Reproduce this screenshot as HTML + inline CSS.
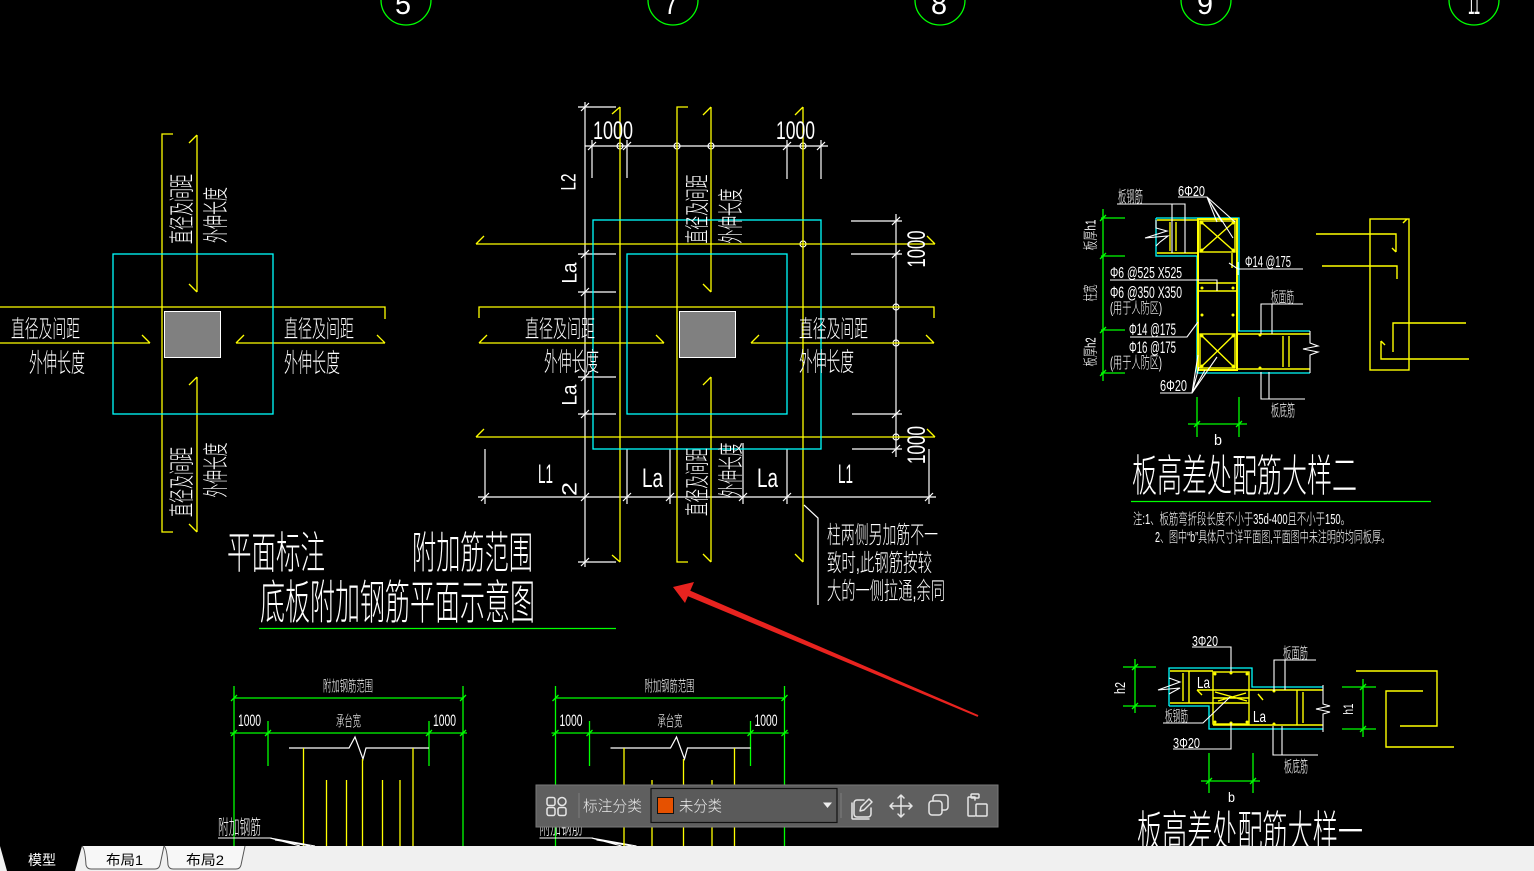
<!DOCTYPE html>
<html><head><meta charset="utf-8">
<style>
html,body{margin:0;padding:0;background:#000;}
svg{display:block;}
text{font-family:"Liberation Sans","Noto Sans CJK SC",sans-serif;fill:#fff;font-weight:300;}
</style></head><body>
<svg width="1534" height="871" viewBox="0 0 1534 871" xmlns="http://www.w3.org/2000/svg">
<rect width="1534" height="871" fill="#000"/>

<!-- top axis circles -->
<g fill="none" stroke="#0f0" stroke-width="1.3">
<circle cx="406" cy="0" r="25"/><circle cx="673" cy="0" r="25"/><circle cx="940" cy="0" r="25"/><circle cx="1206" cy="0" r="25"/><circle cx="1474" cy="0" r="25"/>
</g>
<text x="403" y="14" font-size="30" text-anchor="middle" textLength="16" lengthAdjust="spacingAndGlyphs">5</text>
<text x="671" y="14" font-size="30" text-anchor="middle" textLength="14" lengthAdjust="spacingAndGlyphs">7</text>
<text x="939" y="14" font-size="30" text-anchor="middle" textLength="16" lengthAdjust="spacingAndGlyphs">8</text>
<text x="1205" y="14" font-size="30" text-anchor="middle" textLength="16" lengthAdjust="spacingAndGlyphs">9</text>
<text x="1474" y="14" font-size="30" text-anchor="middle" textLength="12" lengthAdjust="spacingAndGlyphs">11</text>

<!-- LEFT DIAGRAM -->
<g fill="none" stroke="#ff0" stroke-width="1.3">
<polyline points="173,134 162,134 162,532 173,532"/>
<path d="M197,135V292M189,143L197,135M189,284L197,292M197,377V532M189,385L197,377M189,524L197,532"/>
<path d="M0,307H385V319M0,343H150M142,335L150,343M236,343H385M236,343L244,335M377,335L385,343"/>
</g>
<rect x="113" y="254" width="160" height="160" fill="none" stroke="#0ff" stroke-width="1.3"/>
<rect x="164.5" y="311.5" width="56" height="46" fill="#808080" stroke="#fff" stroke-width="1"/>
<text x="11" y="337" font-size="24" textLength="69" lengthAdjust="spacingAndGlyphs">直径及间距</text>
<text x="29" y="372" font-size="26" textLength="56" lengthAdjust="spacingAndGlyphs">外伸长度</text>
<text x="284" y="337" font-size="24" textLength="70" lengthAdjust="spacingAndGlyphs">直径及间距</text>
<text x="284" y="372" font-size="26" textLength="56" lengthAdjust="spacingAndGlyphs">外伸长度</text>
<text x="181" y="219" transform="rotate(-90 181 209)" text-anchor="middle" font-size="26" textLength="70" lengthAdjust="spacingAndGlyphs">直径及间距</text>
<text x="215" y="225" transform="rotate(-90 215 215)" text-anchor="middle" font-size="26" textLength="56" lengthAdjust="spacingAndGlyphs">外伸长度</text>
<text x="181" y="492" transform="rotate(-90 181 482)" text-anchor="middle" font-size="26" textLength="70" lengthAdjust="spacingAndGlyphs">直径及间距</text>
<text x="215" y="480" transform="rotate(-90 215 470)" text-anchor="middle" font-size="26" textLength="55" lengthAdjust="spacingAndGlyphs">外伸长度</text>

<!-- MIDDLE DIAGRAM -->
<g fill="none" stroke="#fff" stroke-width="1.2">
<path d="M585,102V567"/>
<path d="M578,107H616M578,254H616M578,292H616M578,377H616M578,414H616M578,562H616"/>
<path d="M585,146H828M592,140V178M627,140V178M787,140V179M821,140V179"/>
<path d="M896,214V457M851,221H902M851,254H902M852,414H902M852,449H902"/>
<path d="M478,497H936M485,449V504M627,449V504M670,449V504M743,443V504M787,449V504M929,449V504"/>
<path d="M804,505L818,518V605"/>
<path d="M581,111l8,-8M581,258l8,-8M581,296l8,-8M581,381l8,-8M581,418l8,-8M581,566l8,-8M581,501l8,-8M588,150l8,-8M623,150l8,-8M783,150l8,-8M817,150l8,-8M892,225l8,-8M892,258l8,-8M892,418l8,-8M892,453l8,-8M481,501l8,-8M623,501l8,-8M666,501l8,-8M739,501l8,-8M783,501l8,-8M925,501l8,-8"/>
<circle cx="620" cy="146" r="3"/><circle cx="677" cy="146" r="3"/><circle cx="711" cy="146" r="3"/><circle cx="803" cy="146" r="3"/>
<circle cx="803" cy="244" r="3"/><circle cx="896" cy="307" r="3"/><circle cx="896" cy="343" r="3"/><circle cx="896" cy="437" r="3"/>
</g>
<g fill="none" stroke="#ff0" stroke-width="1.3">
<path d="M620,107V562M612,114L620,107M612,555L620,562"/>
<polyline points="688,107 677,107 677,562 688,562"/>
<path d="M711,107V292M703,115L711,107M703,284L711,292M711,377V562M703,385L711,377M703,554L711,562"/>
<path d="M803,107V562M795,115L803,107M795,554L803,562"/>
<path d="M476,244H935M476,244L484,236M927,236L935,244M476,437H935M476,437L484,429M927,429L935,437"/>
<path d="M479,318V307H934V318M479,343H664M479,343L487,335M656,335L664,343M751,343H934M751,343L759,335M926,335L934,343"/>
</g>
<rect x="593" y="220" width="228" height="229" fill="none" stroke="#0ff" stroke-width="1.3"/>
<rect x="627" y="254" width="160" height="160" fill="none" stroke="#0ff" stroke-width="1.3"/>
<rect x="679.5" y="311.5" width="56" height="46" fill="#808080" stroke="#fff" stroke-width="1"/>

<text x="593" y="139" font-size="25" textLength="40" lengthAdjust="spacingAndGlyphs">1000</text>
<text x="776" y="139" font-size="25" textLength="39" lengthAdjust="spacingAndGlyphs">1000</text>
<text x="568" y="189.5" transform="rotate(-90 568 182)" text-anchor="middle" font-size="21" textLength="17" lengthAdjust="spacingAndGlyphs">L2</text>
<text x="569" y="280.5" transform="rotate(-90 569 273)" text-anchor="middle" font-size="21" textLength="21" lengthAdjust="spacingAndGlyphs">La</text>
<text x="569" y="402.5" transform="rotate(-90 569 395)" text-anchor="middle" font-size="21" textLength="21" lengthAdjust="spacingAndGlyphs">La</text>
<text x="569" y="496.5" transform="rotate(-90 569 489)" text-anchor="middle" font-size="21" textLength="14" lengthAdjust="spacingAndGlyphs">2</text>
<text x="916" y="258" transform="rotate(-90 916 249)" text-anchor="middle" font-size="25" textLength="37" lengthAdjust="spacingAndGlyphs">1000</text>
<text x="916" y="454" transform="rotate(-90 916 445)" text-anchor="middle" font-size="25" textLength="38" lengthAdjust="spacingAndGlyphs">1000</text>
<text x="538" y="483" font-size="27" textLength="15" lengthAdjust="spacingAndGlyphs">L1</text>
<text x="642" y="487" font-size="27" textLength="21" lengthAdjust="spacingAndGlyphs">La</text>
<text x="757" y="487" font-size="27" textLength="21" lengthAdjust="spacingAndGlyphs">La</text>
<text x="838" y="483" font-size="27" textLength="15" lengthAdjust="spacingAndGlyphs">L1</text>

<text x="525" y="337" font-size="24" textLength="70" lengthAdjust="spacingAndGlyphs">直径及间距</text>
<text x="544" y="371" font-size="26" textLength="55" lengthAdjust="spacingAndGlyphs">外伸长度</text>
<text x="799" y="337" font-size="24" textLength="69" lengthAdjust="spacingAndGlyphs">直径及间距</text>
<text x="799" y="371" font-size="26" textLength="55" lengthAdjust="spacingAndGlyphs">外伸长度</text>
<text x="696" y="219" transform="rotate(-90 696 209)" text-anchor="middle" font-size="25" textLength="69" lengthAdjust="spacingAndGlyphs">直径及间距</text>
<text x="730" y="226" transform="rotate(-90 730 216)" text-anchor="middle" font-size="26" textLength="55" lengthAdjust="spacingAndGlyphs">外伸长度</text>
<text x="696" y="492" transform="rotate(-90 696 482)" text-anchor="middle" font-size="25" textLength="68" lengthAdjust="spacingAndGlyphs">直径及间距</text>
<text x="730" y="480" transform="rotate(-90 730 470)" text-anchor="middle" font-size="26" textLength="55" lengthAdjust="spacingAndGlyphs">外伸长度</text>

<text x="827" y="543" font-size="24" textLength="111" lengthAdjust="spacingAndGlyphs">柱两侧另加筋不一</text>
<text x="827" y="571" font-size="24" textLength="105" lengthAdjust="spacingAndGlyphs">致时,此钢筋按较</text>
<text x="827" y="599" font-size="24" textLength="118" lengthAdjust="spacingAndGlyphs">大的一侧拉通,余同</text>

<!-- titles -->
<text x="227" y="568" font-size="44" textLength="98" lengthAdjust="spacingAndGlyphs">平面标注</text>
<text x="412" y="568" font-size="44" textLength="121" lengthAdjust="spacingAndGlyphs">附加筋范围</text>
<text x="260" y="619" font-size="47" textLength="275" lengthAdjust="spacingAndGlyphs">底板附加钢筋平面示意图</text>
<line x1="259" y1="628.5" x2="616" y2="628.5" stroke="#0f0" stroke-width="1.3"/>

<!-- red arrow -->
<polygon points="689.2,590.2 978.4,715.1 977.6,716.9 686.8,595.8" fill="#e8231f"/>
<polygon points="673,587 694,582 685,603" fill="#e8231f"/>

<!-- TOP-RIGHT DETAIL -->
<g fill="none" stroke="#0ff" stroke-width="1.3">
<polyline points="1156,218 1239,218 1239,331 1310,331"/>
<polyline points="1156,218 1156,256 1197,256 1197,373 1310,373"/>
</g>
<g fill="none" stroke="#ff0" stroke-width="1.4">
<rect x="1198" y="219" width="39" height="151" stroke-width="2"/>
<rect x="1200" y="221" width="35" height="31"/>
<path d="M1200,221L1235,252M1235,221L1200,252"/>
<rect x="1200" y="334" width="35" height="34"/>
<path d="M1200,334L1235,368M1235,334L1200,368"/>
<path d="M1157,220H1198M1157,253H1198M1170,222V251M1176,222V251"/>
<path d="M1237,334H1310M1237,369H1310M1283,336V367M1289,336V367"/>
<path d="M1199,283H1236M1199,291H1236M1217,283V291M1232,253V268"/>
<rect x="1370" y="219" width="39" height="151"/>
<path d="M1316,234H1396V252M1392,248L1396,252"/>
<path d="M1322,266H1397V279"/>
<path d="M1393,352V323H1466"/>
<path d="M1381,341V359H1469M1381,341L1385,345"/>
<path d="M1403,223L1407,219"/>
</g>
<g fill="#ff0">
<circle cx="1202" cy="223" r="1.5"/><circle cx="1233" cy="223" r="1.5"/><circle cx="1233" cy="250" r="1.5"/><circle cx="1202" cy="250" r="1.5"/>
<circle cx="1202" cy="288" r="1.5"/><circle cx="1233" cy="288" r="1.5"/><circle cx="1202" cy="315" r="1.5"/><circle cx="1233" cy="315" r="1.5"/>
<circle cx="1202" cy="336" r="1.5"/><circle cx="1233" cy="336" r="1.5"/><circle cx="1202" cy="366" r="1.5"/><circle cx="1233" cy="366" r="1.5"/>
<circle cx="1260" cy="335" r="1.5"/><circle cx="1260" cy="368" r="1.5"/>
</g>
<g fill="none" stroke="#fff" stroke-width="1.1">
<path d="M1117,204H1185V253M1172,204V253"/>
<path d="M1178,197H1207L1217,222M1207,197L1222,222M1207,197L1235,222M1207,197L1233,238"/>
<path d="M1238,269H1303M1238,262V275M1229,263L1238,269"/>
<path d="M1110,280H1217V291"/>
<path d="M1130,337H1187L1198,322"/>
<path d="M1160,393H1192L1199,367M1192,393L1198,355M1192,393L1217,357M1192,393L1205,370"/>
<path d="M1261,334V304H1303M1272,304V334"/>
<path d="M1261,372V399H1305M1269,372V399"/>
<polyline points="1156,220 1156,228 1167,231 1145,238 1168,236 1160,242 1156,246"/>
<polyline points="1310,331 1310,343 1318,346 1303,349 1318,352 1310,355 1310,373"/>
</g>
<g fill="none" stroke="#0f0" stroke-width="1.3">
<path d="M1103,209V381M1101,218H1125M1101,256H1125M1101,330H1125M1101,373H1125"/>
<path d="M1188,424H1247M1197,397V437M1239,397V437"/>
<path d="M1100,221l6,-6M1100,259l6,-6M1100,333l6,-6M1100,376l6,-6M1194,427l6,-6M1236,427l6,-6"/>
</g>
<text x="1090" y="240.5" transform="rotate(-90 1090 235)" text-anchor="middle" font-size="15" textLength="31" lengthAdjust="spacingAndGlyphs">板厚h1</text>
<text x="1090" y="298.5" transform="rotate(-90 1090 293)" text-anchor="middle" font-size="15" textLength="17" lengthAdjust="spacingAndGlyphs">柱宽</text>
<text x="1090" y="357.5" transform="rotate(-90 1090 352)" text-anchor="middle" font-size="15" textLength="29" lengthAdjust="spacingAndGlyphs">板厚h2</text>
<text x="1118" y="202" font-size="16" textLength="25" lengthAdjust="spacingAndGlyphs">板钢筋</text>
<text x="1178" y="196" font-size="15" textLength="27" lengthAdjust="spacingAndGlyphs">6Φ20</text>
<text x="1245" y="267" font-size="16" textLength="46" lengthAdjust="spacingAndGlyphs">Φ14 @175</text>
<text x="1110" y="278" font-size="16" textLength="72" lengthAdjust="spacingAndGlyphs">Φ6 @525 X525</text>
<text x="1110" y="298" font-size="17" textLength="72" lengthAdjust="spacingAndGlyphs">Φ6 @350 X350</text>
<text x="1110" y="313" font-size="15" textLength="52" lengthAdjust="spacingAndGlyphs">(用于人防区)</text>
<text x="1129" y="335" font-size="17" textLength="47" lengthAdjust="spacingAndGlyphs">Φ14 @175</text>
<text x="1129" y="353" font-size="17" textLength="47" lengthAdjust="spacingAndGlyphs">Φ16 @175</text>
<text x="1110" y="368" font-size="16" textLength="52" lengthAdjust="spacingAndGlyphs">(用于人防区)</text>
<text x="1160" y="391" font-size="16" textLength="27" lengthAdjust="spacingAndGlyphs">6Φ20</text>
<text x="1271" y="302" font-size="15" textLength="23" lengthAdjust="spacingAndGlyphs">板面筋</text>
<text x="1271" y="416" font-size="16" textLength="24" lengthAdjust="spacingAndGlyphs">板底筋</text>
<text x="1214" y="445" font-size="15" textLength="8" lengthAdjust="spacingAndGlyphs">b</text>
<text x="1132" y="491" font-size="44" textLength="225" lengthAdjust="spacingAndGlyphs">板高差处配筋大样二</text>
<line x1="1131" y1="501.5" x2="1431" y2="501.5" stroke="#0f0" stroke-width="1.3"/>
<text x="1133" y="524" font-size="15" textLength="217" lengthAdjust="spacingAndGlyphs">注:1、板筋弯折段长度不小于35d-400且不小于150。</text>
<text x="1155" y="542" font-size="15" textLength="235" lengthAdjust="spacingAndGlyphs">2、图中“b”具体尺寸详平面图,平面图中未注明的均同板厚。</text>

<!-- BOTTOM-RIGHT DETAIL -->
<g fill="none" stroke="#0ff" stroke-width="1.3">
<polyline points="1169,706 1169,668 1252,668 1252,687 1323,687"/>
<polyline points="1169,706 1209,706 1209,729 1323,729"/>
</g>
<g fill="none" stroke="#ff0" stroke-width="1.4">
<rect x="1213" y="672" width="36" height="52"/>
<path d="M1170,671H1213M1170,703H1249M1189,671V703M1183,673V701"/>
<path d="M1197,690H1323M1213,725H1323M1297,690V725M1303,692V723"/>
<path d="M1213,698H1249M1215,692L1247,701M1218,701L1246,693M1197,690L1202,695M1258,694L1263,700"/>
<path d="M1356,671H1437V726H1400"/>
<path d="M1423,691H1386V747H1454"/>
</g>
<g fill="#ff0">
<circle cx="1215" cy="674" r="1.5"/><circle cx="1247" cy="674" r="1.5"/><circle cx="1215" cy="722" r="1.5"/><circle cx="1247" cy="722" r="1.5"/><circle cx="1231" cy="673" r="1.5"/><circle cx="1231" cy="723" r="1.5"/><circle cx="1274" cy="691" r="1.5"/><circle cx="1274" cy="724" r="1.5"/>
</g>
<g fill="none" stroke="#fff" stroke-width="1.1">
<path d="M1192,647H1231V672"/>
<path d="M1274,691V660H1316M1285,660V690"/>
<path d="M1163,723H1203L1230,697"/>
<path d="M1173,749H1231V723"/>
<path d="M1273,726V755H1318M1282,726V755"/>
<polyline points="1169,678 1180,682 1158,690 1180,688 1169,694"/>
<polyline points="1323,685 1323,704 1330,706 1316,709 1330,712 1323,714 1323,732"/>
</g>
<g fill="none" stroke="#0f0" stroke-width="1.3">
<path d="M1135,659V713M1123,667H1156M1123,706H1156"/>
<path d="M1201,781H1260M1209,753V793M1253,753V793"/>
<path d="M1363,679V737M1342,687H1376M1342,729H1376"/>
<path d="M1132,670l6,-6M1132,709l6,-6M1206,784l6,-6M1250,784l6,-6M1360,690l6,-6M1360,732l6,-6"/>
</g>
<text x="1192" y="646" font-size="15" textLength="26" lengthAdjust="spacingAndGlyphs">3Φ20</text>
<text x="1283" y="658" font-size="15" textLength="25" lengthAdjust="spacingAndGlyphs">板面筋</text>
<text x="1120" y="693" transform="rotate(-90 1120 688)" text-anchor="middle" font-size="15" textLength="12" lengthAdjust="spacingAndGlyphs">h2</text>
<text x="1197" y="688" font-size="16" textLength="13" lengthAdjust="spacingAndGlyphs">La</text>
<text x="1253" y="722" font-size="16" textLength="13" lengthAdjust="spacingAndGlyphs">La</text>
<text x="1165" y="721" font-size="15" textLength="23" lengthAdjust="spacingAndGlyphs">板钢筋</text>
<text x="1173" y="748" font-size="15" textLength="27" lengthAdjust="spacingAndGlyphs">3Φ20</text>
<text x="1284" y="772" font-size="16" textLength="24" lengthAdjust="spacingAndGlyphs">板底筋</text>
<text x="1228" y="802" font-size="14" textLength="7" lengthAdjust="spacingAndGlyphs">b</text>
<text x="1348" y="714" transform="rotate(-90 1348 709)" text-anchor="middle" font-size="14" textLength="11" lengthAdjust="spacingAndGlyphs">h1</text>
<text x="1137" y="847" font-size="44" textLength="226" lengthAdjust="spacingAndGlyphs">板高差处配筋大样一</text>

<!-- BOTTOM-LEFT SECTIONS -->
<g id="sec">
<g fill="none" stroke="#0f0" stroke-width="1.3">
<path d="M234,698H464M234,686V846M463,686V846"/>
<path d="M230,733H467M268,721V766M429,721V766"/>
<path d="M231,701l6,-6M460,701l6,-6M231,736l6,-6M265,736l6,-6M426,736l6,-6M460,736l6,-6"/>
</g>
<polyline points="289,748 349,748 355,737 363,759 366,748 429,748" fill="none" stroke="#fff" stroke-width="1.2"/>
<g stroke="#ff0" stroke-width="1.3">
<path d="M303.5,748V846M326.5,780V846M346.5,780V846M362.5,759V846M382.5,780V846M400,780V846M413,748V846"/>
</g>
<text x="323" y="691" font-size="15" textLength="50" lengthAdjust="spacingAndGlyphs">附加钢筋范围</text>
<text x="238" y="726" font-size="17" textLength="23" lengthAdjust="spacingAndGlyphs">1000</text>
<text x="336" y="726" font-size="15" textLength="25" lengthAdjust="spacingAndGlyphs">承台宽</text>
<text x="433" y="726" font-size="17" textLength="23" lengthAdjust="spacingAndGlyphs">1000</text>
<text x="218" y="834" font-size="20" textLength="43" lengthAdjust="spacingAndGlyphs">附加钢筋</text>
<path d="M218,838H270L300,846M270,838L315,846M275,840L310,846" fill="none" stroke="#fff" stroke-width="1.1"/>
</g>
<g transform="translate(321.5 0)">
<g fill="none" stroke="#0f0" stroke-width="1.3">
<path d="M234,698H464M234,686V846M463,686V846"/>
<path d="M230,733H467M268,721V766M429,721V766"/>
<path d="M231,701l6,-6M460,701l6,-6M231,736l6,-6M265,736l6,-6M426,736l6,-6M460,736l6,-6"/>
</g>
<polyline points="289,748 349,748 355,737 363,759 366,748 429,748" fill="none" stroke="#fff" stroke-width="1.2"/>
<text x="323" y="691" font-size="15" textLength="50" lengthAdjust="spacingAndGlyphs">附加钢筋范围</text>
<text x="238" y="726" font-size="17" textLength="23" lengthAdjust="spacingAndGlyphs">1000</text>
<text x="336" y="726" font-size="15" textLength="25" lengthAdjust="spacingAndGlyphs">承台宽</text>
<text x="433" y="726" font-size="17" textLength="23" lengthAdjust="spacingAndGlyphs">1000</text>
<text x="218" y="834" font-size="20" textLength="43" lengthAdjust="spacingAndGlyphs">附加钢筋</text>
<path d="M218,838H270L300,846M270,838L315,846M275,840L310,846" fill="none" stroke="#fff" stroke-width="1.1"/>
</g>
<g stroke="#ff0" stroke-width="1.3">
<path d="M624,748V846M652,780V846M683.5,759V846M712,780V846M734.5,748V846"/>
</g>

<!-- toolbar -->
<rect x="536" y="785" width="462" height="42" fill="#5f5f5f" stroke="#7a7a7a" stroke-width="1"/>
<g fill="none" stroke="#e6e6e6" stroke-width="1.5">
<rect x="547" y="797.5" width="8" height="8" rx="2"/>
<rect x="558" y="797.5" width="8" height="8" rx="4"/>
<rect x="547" y="807.5" width="8" height="8" rx="2"/>
<rect x="558" y="807.5" width="8" height="8" rx="2"/>
</g>
<line x1="579" y1="793" x2="579" y2="818" stroke="#7d7d7d"/>
<text x="583" y="811" font-size="15" style="fill:#e8e8e8" textLength="59" lengthAdjust="spacingAndGlyphs">标注分类</text>
<rect x="651" y="788.5" width="186" height="34" fill="#5a5a5a" stroke="#111" stroke-width="1.2"/>
<rect x="657.5" y="797.5" width="16" height="16" fill="#e65100" stroke="#111"/>
<text x="679" y="811" font-size="15" style="fill:#eee" textLength="43" lengthAdjust="spacingAndGlyphs">未分类</text>
<polygon points="823,802.5 832,802.5 827.5,808" fill="#eee"/>
<line x1="841" y1="793" x2="841" y2="818" stroke="#7d7d7d"/>
<g fill="none" stroke="#e6e6e6" stroke-width="1.5" stroke-linejoin="round" stroke-linecap="round">
<path d="M864,800H857a3,3 0 0 0 -3,3V814a3,3 0 0 0 3,3H868a3,3 0 0 0 3,-3V808"/>
<path d="M852,803V818a1,1 0 0 0 1,1H869"/>
<path d="M860,811L861,807L869,799L872,802L864,810Z"/>
<path d="M890,806H912M901,795V817M893,803L890,806L893,809M909,803L912,806L909,809M898,798L901,795L904,798M898,814L901,817L904,814"/>
<rect x="929" y="801" width="13" height="14" rx="3"/>
<path d="M933,801V798a3,3 0 0 1 3,-3H945a3,3 0 0 1 3,3V807a3,3 0 0 1 -3,3H942"/>
<path d="M975,800V797H969a1,1 0 0 0 -1,1V815a1,1 0 0 0 1,1H975"/>
<rect x="971" y="794" width="8" height="4" rx="1"/>
<rect x="976" y="804" width="11" height="12" rx="1"/>
</g>

<!-- bottom bar -->
<rect x="0" y="846" width="1534" height="25" fill="#f0f0f0"/>
<polygon points="0,846 82,846 75,871 7,871" fill="#000"/>
<text x="28" y="865" font-size="14" style="fill:#fff;font-weight:400" textLength="28" lengthAdjust="spacingAndGlyphs">模型</text>
<path d="M82,846Q85,848 86,865Q87,869 91,869H155Q159,869 160,865L164,846" fill="#f7f7f7" stroke="#555" stroke-width="1"/>
<path d="M164,846Q167,848 168,865Q169,869 173,869H236Q240,869 241,865L245,846" fill="#f7f7f7" stroke="#555" stroke-width="1"/>
<text x="106" y="865" font-size="14" style="fill:#000;font-weight:400" textLength="37" lengthAdjust="spacingAndGlyphs">布局1</text>
<text x="186" y="865" font-size="14" style="fill:#000;font-weight:400" textLength="38" lengthAdjust="spacingAndGlyphs">布局2</text>
</svg>
</body></html>
